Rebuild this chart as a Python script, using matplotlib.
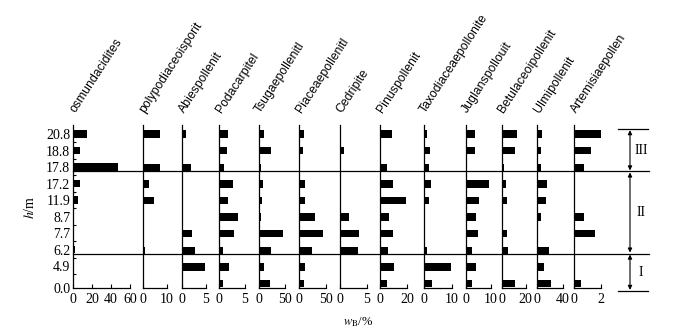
import numpy as np
import matplotlib
matplotlib.use("Agg")
import matplotlib.pyplot as plt

plt.rcParams['font.family'] = 'Liberation Serif'
plt.rcParams['mathtext.fontset'] = 'stix'

# sample heights (top to bottom)
depths = ['20.8', '18.8', '17.8', '17.2', '11.9', '8.7', '7.7', '6.2', '4.9', '0.0']

taxa = ['osmundacidites', 'polypodiaceoisporit', 'Abiespollenit', 'Podacarpitel',
        'Tsugaepollenitl', 'Piaceaepollenitl', 'Cedripite', 'Pinuspollenit',
        'Taxodiaceaepollonite', 'Juglanspollouit', 'Betulaceoipollenit',
        'Ulmipollenit', 'Artemisiaepollen']

# w_B / %  for each taxon, same order as depths
osmundacidites = [14.7, 7.7, 47.4, 7.4, 4.9, 0, 0, 2.1, 1.4, 0]
polypodiaceoisporit = [7.2, 0, 7.0, 2.6, 4.4, 0, 0, 0.8, 0, 0]
abiespollenit = [0.8, 0, 2.0, 0, 0, 0, 2.2, 2.7, 4.8, 0]
podacarpitel = [1.8, 1.5, 1.0, 2.7, 1.7, 3.6, 2.9, 0.7, 2.0, 0.8]
tsugaepollenitl = [9.4, 23, 5, 7.5, 7, 5.6, 45.6, 22.5, 10, 20.6]
piaceaepollenitl = [8.4, 7.8, 0, 10.8, 10.8, 29.5, 44.6, 24, 11.4, 9]
cedripite = [0, 0.9, 0, 0, 0, 1.75, 3.6, 3.4, 0, 0]
pinuspollenit = [8.7, 0, 5.0, 9.6, 19, 6.4, 9.6, 5.9, 10.6, 5.2]
taxodiaceaepollonite = [1.2, 2.2, 1.8, 2.8, 1.9, 0, 0, 1.3, 9.8, 2.9]
juglanspollouit = [3.6, 3.9, 0, 9.5, 5.5, 4.3, 4.8, 2.4, 4.1, 2.7]
betulaceoipollenit = [12.6, 11.5, 2.2, 4.1, 4.9, 0, 4.9, 5.2, 0, 11.5]
ulmipollenit = [6.8, 5.8, 5.3, 15.3, 13.7, 5.3, 0, 18.5, 11, 21]
artemisiaepollen = [2.0, 1.23, 0.72, 0, 0, 0.74, 1.56, 0, 0, 0.54]

# axis end value of each panel
xmax = [60, 10, 5, 5, 50, 50, 5, 20, 10, 10, 20, 40, 2]
zones = ['III', 'II', 'I']

series = [osmundacidites, polypodiaceoisporit, abiespollenit, podacarpitel,
          tsugaepollenitl, piaceaepollenitl, cedripite, pinuspollenit,
          taxodiaceaepollonite, juglanspollouit, betulaceoipollenit,
          ulmipollenit, artemisiaepollen]

W, H = 687, 335
fig = plt.figure(figsize=(W / 100, H / 100), dpi=100)

# layout in pixels
lefts = [73, 143, 182, 219, 258.5, 299, 339.5, 380, 423.5, 465.5, 501.5, 537.3, 574]
widths = [57, 24, 23.7, 26, 26.7, 27, 27.3, 27, 28.3, 25, 24.3, 25.3, 27]
top_px, bot_px = 125, 288.4
ytop, ybot = -0.55, 9.3
rows = np.arange(len(depths))


def row_px(r):
    return top_px + (r - ytop) * (bot_px - top_px) / (ybot - ytop)


# overlay in pixel coords for dividers, zone brackets and labels
ov = fig.add_axes([0, 0, 1, 1])
ov.set_xlim(0, W)
ov.set_ylim(H, 0)
ov.axis('off')
ov.patch.set_visible(False)

for i in range(len(taxa)):
    ax = fig.add_axes([lefts[i] / W, 1 - bot_px / H, widths[i] / W, (bot_px - top_px) / H])
    ax.barh(rows, series[i], height=0.45, color='black', edgecolor='none')
    ax.set_xlim(0, xmax[i])
    ax.set_ylim(ybot, ytop)
    ax.patch.set_visible(False)
    for s in ['top', 'right']:
        ax.spines[s].set_visible(False)
    ax.spines['left'].set_linewidth(0.9)
    ax.spines['bottom'].set_linewidth(0.9)
    if i == 0:
        ax.set_xticks([0, 20, 40, 60])
        yt = list(rows[:-1]) + [9.35]
        ax.set_yticks(yt)
        ax.set_yticklabels(depths, fontsize=10)
        ax.set_yticks(rows[:-1] + 0.5, minor=True)
        ax.tick_params(axis='y', which='major', length=0, pad=2)
        ax.tick_params(axis='y', which='minor', direction='in', length=2.5, width=0.8)
    else:
        ax.set_xticks([0, xmax[i]])
        ax.set_yticks([])
    ax.tick_params(axis='x', direction='in', length=3, width=0.8, pad=3, labelsize=10)

    ov.text(lefts[i] + 2, 113, taxa[i], rotation=57, rotation_mode='anchor',
            ha='left', va='baseline', fontsize=8.8, family='Liberation Sans')

# zone dividers across all panels
div_rows = [2.25, 7.2]
for r in div_rows:
    ov.plot([lefts[0], 649], [row_px(r), row_px(r)], color='black', lw=0.9)

# bracket on the right
bx = 630
edges = [row_px(-0.3)] + [row_px(r) for r in div_rows] + [row_px(9.45)]
ov.plot([618, 648], [edges[0], edges[0]], color='black', lw=0.9)
ov.plot([618, 648], [edges[-1], edges[-1]], color='black', lw=0.9)
for k in range(3):
    ov.annotate('', xy=(bx, edges[k] + 1), xytext=(bx, edges[k + 1] - 1),
                arrowprops=dict(arrowstyle='<|-|>', lw=0.8, color='black',
                                mutation_scale=6, shrinkA=0, shrinkB=0))
    ov.text(bx + 11, (edges[k] + edges[k + 1]) / 2, zones[k], ha='center',
            va='center', fontsize=10)

ov.text(30, 207, r'$h$/m', rotation=90, ha='center', va='center', fontsize=10)
ov.text(358, 322, r'$w_{\mathrm{B}}$/%', ha='center', va='center', fontsize=9)

fig.savefig('out.png', dpi=100)
